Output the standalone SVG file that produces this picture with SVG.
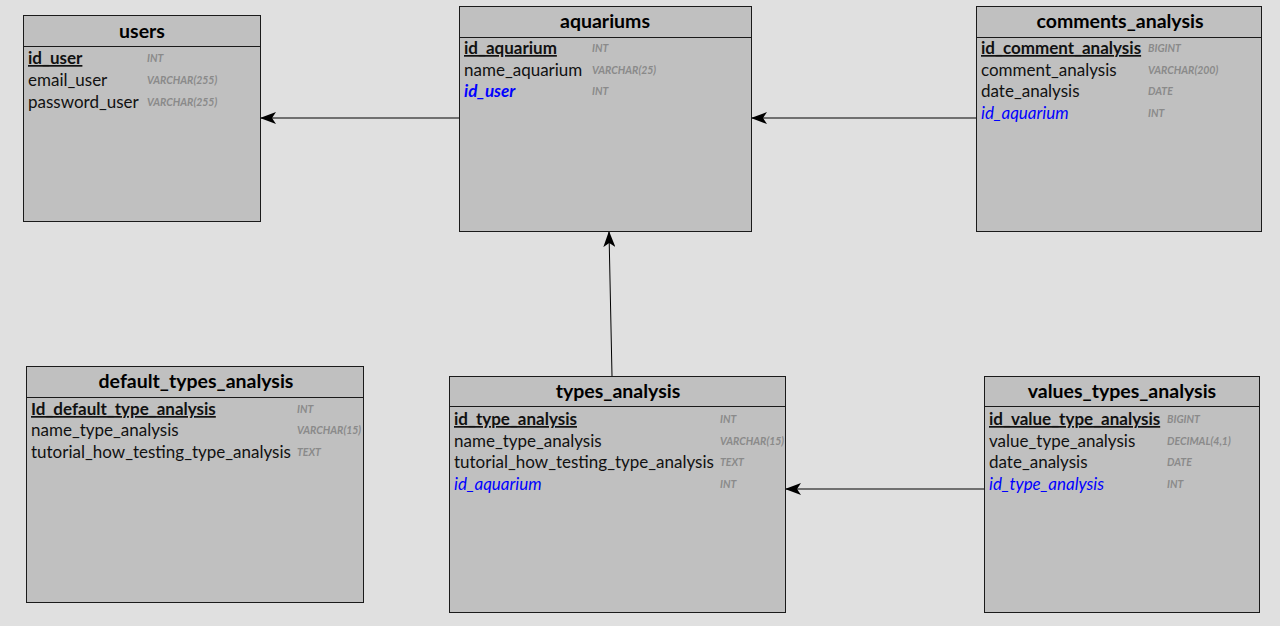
<svg xmlns="http://www.w3.org/2000/svg" width="1280" height="626" viewBox="0 0 1280 626">
  <defs>
    <marker id="arrow" viewBox="0 0 16 12" refX="15" refY="6" markerWidth="16" markerHeight="12" markerUnits="userSpaceOnUse" orient="auto">
      <path d="M0,0 L16,6 L0,12 L4,6 Z" fill="#000"/>
    </marker>
  </defs>
  <style>
    .box { fill: #c0c0c0; stroke: #1a1a1a; stroke-width: 1; }
    .sep { stroke: #1a1a1a; stroke-width: 1; }
    .title { font-family: Lato, "Liberation Sans", sans-serif; font-size: 19.5px; font-weight: bold; fill: #000; text-anchor: middle; }
    .col { font-family: Lato, "Liberation Sans", sans-serif; font-size: 17px; fill: #111; }
    .pk { font-weight: bold; text-decoration: underline; }
    .fk { fill: #0000ff; font-style: italic; }
    .fkb { fill: #0000ff; font-style: italic; font-weight: bold; }
    .type { font-family: Lato, "Liberation Sans", sans-serif; font-size: 10.5px; font-style: italic; font-weight: bold; fill: #8a8a8a; }
    .link { stroke: #000; stroke-width: 1; fill: none; marker-end: url(#arrow); }
  </style>
  <rect width="1280" height="626" fill="#e0e0e0"/>

  <g id="connectors">
    <line class="link" x1="459" y1="118" x2="261" y2="118"/>
    <line class="link" x1="976" y1="118" x2="752" y2="118"/>
    <line class="link" x1="612" y1="376" x2="609" y2="232"/>
    <line class="link" x1="984" y1="489" x2="786" y2="489"/>
  </g>

  <g id="users">
    <rect class="box" x="23.5" y="15.5" width="237" height="206"/>
    <line class="sep" x1="23.5" y1="46.5" x2="260.5" y2="46.5"/>
    <text class="title" x="142" y="38">users</text>
    <text class="col pk" x="28" y="64">id_user</text>
    <text class="type" x="147" y="62">INT</text>
    <text class="col" x="28" y="86">email_user</text>
    <text class="type" x="147" y="84">VARCHAR(255)</text>
    <text class="col" x="28" y="108">password_user</text>
    <text class="type" x="147" y="106">VARCHAR(255)</text>
  </g>

  <g id="aquariums">
    <rect class="box" x="459.5" y="6.5" width="292" height="225"/>
    <line class="sep" x1="459.5" y1="37.5" x2="751.5" y2="37.5"/>
    <text class="title" x="605" y="28">aquariums</text>
    <text class="col pk" x="464" y="54">id_aquarium</text>
    <text class="type" x="592" y="52">INT</text>
    <text class="col" x="464" y="76">name_aquarium</text>
    <text class="type" x="592" y="74">VARCHAR(25)</text>
    <text class="col fkb" x="464" y="97">id_user</text>
    <text class="type" x="592" y="95">INT</text>
  </g>

  <g id="comments_analysis">
    <rect class="box" x="976.5" y="6.5" width="285" height="225"/>
    <line class="sep" x1="976.5" y1="37.5" x2="1261.5" y2="37.5"/>
    <text class="title" x="1120" y="28">comments_analysis</text>
    <text class="col pk" x="981" y="54">id_comment_analysis</text>
    <text class="type" x="1148" y="52">BIGINT</text>
    <text class="col" x="981" y="76">comment_analysis</text>
    <text class="type" x="1148" y="74">VARCHAR(200)</text>
    <text class="col" x="981" y="97">date_analysis</text>
    <text class="type" x="1148" y="95">DATE</text>
    <text class="col fk" x="981" y="119">id_aquarium</text>
    <text class="type" x="1148" y="117">INT</text>
  </g>

  <g id="default_types_analysis">
    <rect class="box" x="26.5" y="366.5" width="337" height="236"/>
    <line class="sep" x1="26.5" y1="397.5" x2="363.5" y2="397.5"/>
    <text class="title" x="196" y="388">default_types_analysis</text>
    <text class="col pk" x="31" y="415">Id_default_type_analysis</text>
    <text class="type" x="297" y="413">INT</text>
    <text class="col" x="31" y="436">name_type_analysis</text>
    <text class="type" x="297" y="434">VARCHAR(15)</text>
    <text class="col" x="31" y="458">tutorial_how_testing_type_analysis</text>
    <text class="type" x="297" y="456">TEXT</text>
  </g>

  <g id="types_analysis">
    <rect class="box" x="449.5" y="376.5" width="336" height="236"/>
    <line class="sep" x1="449.5" y1="406.5" x2="785.5" y2="406.5"/>
    <text class="title" x="618" y="398">types_analysis</text>
    <text class="col pk" x="454" y="425">id_type_analysis</text>
    <text class="type" x="720" y="423">INT</text>
    <text class="col" x="454" y="447">name_type_analysis</text>
    <text class="type" x="720" y="445">VARCHAR(15)</text>
    <text class="col" x="454" y="468">tutorial_how_testing_type_analysis</text>
    <text class="type" x="720" y="466">TEXT</text>
    <text class="col fk" x="454" y="490">id_aquarium</text>
    <text class="type" x="720" y="488">INT</text>
  </g>

  <g id="values_types_analysis">
    <rect class="box" x="984.5" y="376.5" width="275" height="236"/>
    <line class="sep" x1="984.5" y1="406.5" x2="1259.5" y2="406.5"/>
    <text class="title" x="1122" y="398">values_types_analysis</text>
    <text class="col pk" x="989" y="425">id_value_type_analysis</text>
    <text class="type" x="1167" y="423">BIGINT</text>
    <text class="col" x="989" y="447">value_type_analysis</text>
    <text class="type" x="1167" y="445">DECIMAL(4,1)</text>
    <text class="col" x="989" y="468">date_analysis</text>
    <text class="type" x="1167" y="466">DATE</text>
    <text class="col fk" x="989" y="490">id_type_analysis</text>
    <text class="type" x="1167" y="488">INT</text>
  </g>
</svg>
